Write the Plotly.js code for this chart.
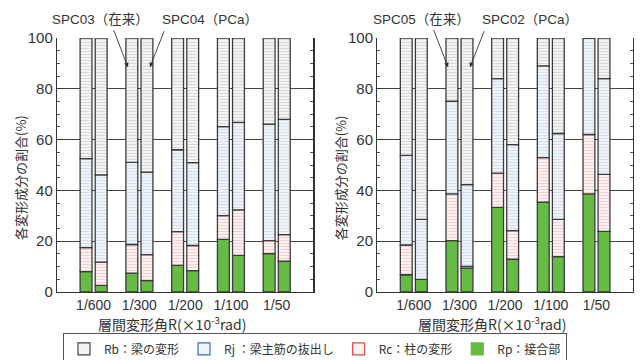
<!DOCTYPE html>
<html><head><meta charset="utf-8">
<script src="https://cdn.plot.ly/plotly-3.0.1.min.js"></script>
<style>body{margin:0;background:#fff}#c{width:640px;height:360px}</style>
</head><body><div id="c"></div>
<script>
const categories = ['1/600','1/300','1/200','1/100','1/50'];
// left panel
const spc03_Rp = [8.0, 7.4, 10.5, 20.7, 15.1];
const spc03_Rc = [9.5, 11.3, 13.3, 9.4, 5.1];
const spc03_Rj = [35.0, 32.3, 32.2, 35.0, 45.9];
const spc03_Rb = [47.5, 49.0, 44.0, 34.9, 33.9];
const spc04_Rp = [2.6, 4.5, 8.4, 14.4, 12.1];
const spc04_Rc = [9.2, 10.2, 9.9, 17.9, 10.5];
const spc04_Rj = [34.3, 32.5, 32.6, 34.5, 45.4];
const spc04_Rb = [53.9, 52.8, 49.1, 33.2, 32.0];
// right panel
const spc05_Rp = [6.8, 20.2, 33.3, 35.4, 38.6];
const spc05_Rc = [11.7, 18.4, 13.5, 17.5, 23.4];
const spc05_Rj = [35.3, 36.5, 37.2, 36.1, 38.0];
const spc05_Rb = [46.2, 24.9, 16.0, 11.0, 0];
const spc02_Rp = [5.0, 9.4, 12.9, 13.9, 23.9];
const spc02_Rc = [-2.0, 0.7, 11.3, 14.7, 22.4];
const spc02_Rj = [23.6, 32.2, 33.8, 33.8, 37.7];
const spc02_Rb = [71.4, 57.7, 42.0, 37.6, 16.0];

const legendNames = ['Rb：梁の変形', 'Rj ：梁主筋の抜出し', 'Rc：柱の変形', 'Rp：接合部'];

const styles = {
  Rp: {color:'#66bb44'},
  Rc: {color:'#fdf1f1', pattern:{shape:'-', fgcolor:'#f3cfcf', bgcolor:'#fdf1f1', size:3, solidity:0.35}},
  Rj: {color:'#eef2f9', pattern:{shape:'-', fgcolor:'#d7dfec', bgcolor:'#eef2f9', size:3, solidity:0.35}},
  Rb: {color:'#f3f3f3', pattern:{shape:'-', fgcolor:'#d9d9d9', bgcolor:'#f3f3f3', size:3, solidity:0.35}}
};
const outline = {color:'#3c3c3c', width:1.3};
const barW = 0.26;
const offs = [-0.165, 0.165];

const traces = [];
function addSeries(parts, xa, ya, off) {
  const xs = categories.map((_, i) => i + off);
  ['Rp','Rc','Rj','Rb'].forEach(k => {
    const m = Object.assign({}, styles[k], {line: outline});
    traces.push({type:'bar', x: xs, y: parts[k], width: barW, xaxis: xa, yaxis: ya,
      marker: m, showlegend:false, hoverinfo:'skip', cliponaxis:false});
  });
}
addSeries({Rp:spc03_Rp, Rc:spc03_Rc, Rj:spc03_Rj, Rb:spc03_Rb}, 'x', 'y', offs[0]);
addSeries({Rp:spc04_Rp, Rc:spc04_Rc, Rj:spc04_Rj, Rb:spc04_Rb}, 'x', 'y', offs[1]);
addSeries({Rp:spc05_Rp, Rc:spc05_Rc, Rj:spc05_Rj, Rb:spc05_Rb}, 'x2', 'y2', offs[0]);
addSeries({Rp:spc02_Rp, Rc:spc02_Rc, Rj:spc02_Rj, Rb:spc02_Rb}, 'x2', 'y2', offs[1]);

// legend entries
const legCols = [
  {fill:'#f3f3f3', line:'#444444'},
  {fill:'#eef2f9', line:'#3a6cc0'},
  {fill:'#fdf1f1', line:'#e04848'},
  {fill:'#66bb44', line:'#66bb44'}
];
legendNames.forEach((n, i) => {
  traces.push({type:'bar', x:[null], y:[null], name:n, showlegend:true, legendrank:i+1,
    marker:{color:legCols[i].fill, line:{color:legCols[i].line, width:1.2}}, hoverinfo:'skip'});
});

const numFont = {family:'Liberation Sans, Arial, sans-serif', size:14, color:'#333'};
const jpFont = {family:'Noto Sans CJK JP, sans-serif', size:13, color:'#333'};
const xTitleFont = {family:'Noto Sans CJK JP, sans-serif', size:14, color:'#333'};
const xTitle = '層間変形角R(×10<sup>-3</sup>rad)';
const yTitle = '各変形成分の割合(%)';

function xaxis(domain, anchor) {
  return {domain: domain, anchor: anchor, range:[-0.8, 4.8], tickvals:[0,1,2,3,4], ticktext: categories,
    showline:true, linecolor:'#333', linewidth:1.2, ticks:'', showgrid:false, zeroline:false, automargin:false,
    tickfont:numFont};
}
function yaxis(anchor) {
  return {anchor: anchor, range:[0,100], dtick:20, showline:true, mirror:'ticks', linecolor:'#333', linewidth:1.2,
    ticks:'inside', ticklen:4, tickcolor:'#333', showgrid:true, gridcolor:'#444', gridwidth:1, zeroline:false, automargin:false,
    minor:{dtick:5, ticks:'inside', ticklen:3, tickcolor:'#555', showgrid:false},
    tickfont:{family:numFont.family, size:15, color:'#333'}};
}

const ann = [];
const lblFont = {family:'Liberation Sans, Noto Sans CJK JP', size:13.5, color:'#333'};
const tiny = {size:1, color:'rgba(0,0,0,0)'};
function addPanelText(xa, ya, t1, t2, xTitleX, yTitleX) {
  ann.push({xref:xa, yref:'paper', x:0.16, y:1.074, yanchor:'middle', text:t1, showarrow:false, font:lblFont});
  ann.push({xref:xa, yref:'paper', x:2.54, y:1.074, yanchor:'middle', text:t2, showarrow:false, font:lblFont});
  ann.push({xref:xa, yref:ya, x:0.75, y:88.5, text:' ', font:tiny, showarrow:true, ax:-15, ay:-39, arrowhead:2, arrowsize:1, arrowwidth:0.9, arrowcolor:'#333', standoff:0});
  ann.push({xref:xa, yref:ya, x:1.23, y:88.5, text:' ', font:tiny, showarrow:true, ax:15, ay:-38, arrowhead:2, arrowsize:1, arrowwidth:0.9, arrowcolor:'#333', standoff:0});
  ann.push({xref:xa, yref:'paper', x:xTitleX, y:-0.123, yanchor:'middle', text:xTitle, showarrow:false, font:xTitleFont});
  ann.push({xref:'paper', yref:'paper', x:yTitleX, y:0.4516, xanchor:'center', yanchor:'middle', textangle:-90, text:yTitle, showarrow:false, font:jpFont});
}
addPanelText('x', 'y', 'SPC03（在来）', 'SPC04（PCa）', 1.72, -0.063);
addPanelText('x2', 'y2', 'SPC05（在来）', 'SPC02（PCa）', 1.72, 0.4913);

const layout = {
  width:640, height:360, margin:{l:57, r:7, t:38, b:68, autoexpand:false},
  paper_bgcolor:'#fff', plot_bgcolor:'#fff',
  barmode:'relative', font: numFont,
  xaxis: xaxis([0, 0.445], 'y'), yaxis: yaxis('x'),
  xaxis2: xaxis([0.556, 1], 'y2'), yaxis2: yaxis('x2'),
  annotations: ann,
  legend:{orientation:'h', x:0.0104, xanchor:'left', y:-0.163, yanchor:'top', traceorder:'normal',
    bgcolor:'#fff', bordercolor:'#555', borderwidth:1,
    font:{family:'Noto Sans CJK JP, sans-serif', size:12, color:'#333'}, itemwidth:30},
  showlegend:true
};
Plotly.newPlot('c', traces, layout, {staticPlot:true, displayModeBar:false});
</script></body></html>
